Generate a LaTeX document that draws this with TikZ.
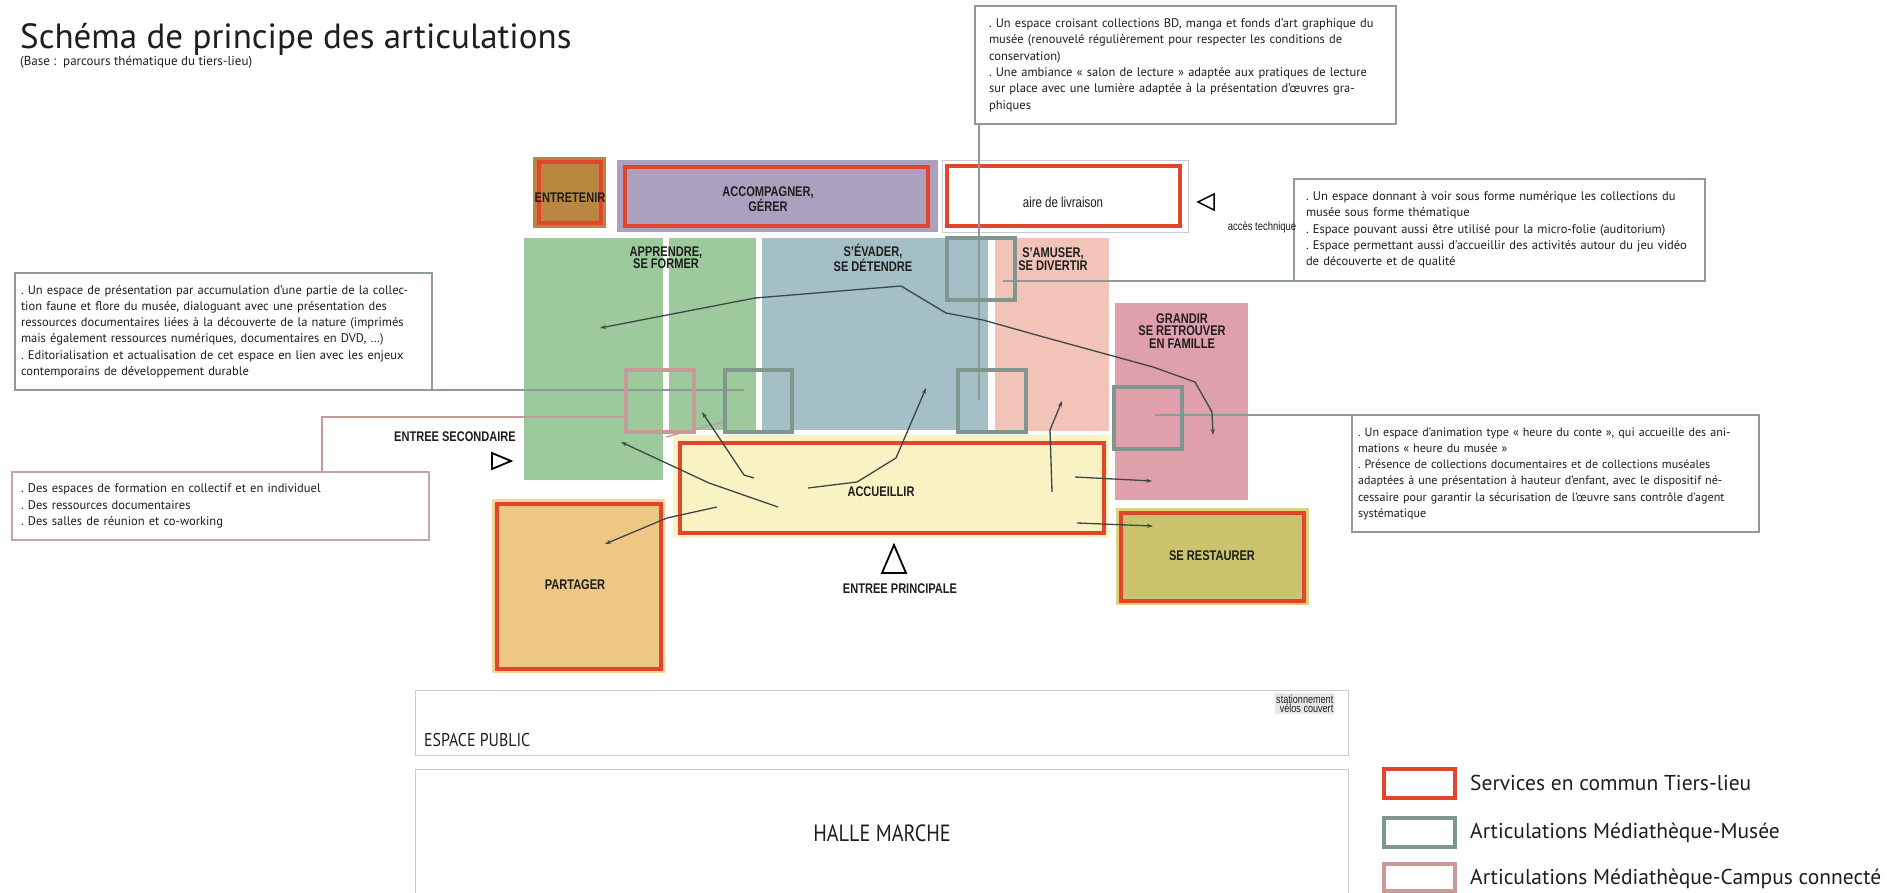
\documentclass[tikz,border=0pt]{standalone}
\usepackage{fontspec}
\setmainfont{PT Sans}
\newfontfamily\lblfont[FakeStretch=0.79]{Liberation Sans}
\newfontfamily\condfont[FakeStretch=0.86]{PT Sans}
\usetikzlibrary{arrows.meta}
\definecolor{cGreen}{HTML}{9DCA9C}
\definecolor{cBlue}{HTML}{A4BFC6}
\definecolor{cPinkAm}{HTML}{F2C4B9}
\definecolor{cGrandir}{HTML}{DF9FAB}
\definecolor{cYellow}{HTML}{F9F3C3}
\definecolor{cOrange}{HTML}{EFC784}
\definecolor{cOrangeL}{HTML}{F4D59C}
\definecolor{cOlive}{HTML}{CCC36E}
\definecolor{cOliveL}{HTML}{DDD27F}
\definecolor{cBrown}{HTML}{B9873F}
\definecolor{cPurple}{HTML}{ABA1BF}
\definecolor{cRed}{HTML}{E2452B}
\definecolor{cMus}{HTML}{7F978F}
\definecolor{cCamp}{HTML}{C89B99}
\definecolor{cBox}{HTML}{8E9B97}
\definecolor{cCampBox}{HTML}{C7A5A5}
\definecolor{cLiv}{HTML}{C9C9D6}
\definecolor{cArr}{HTML}{3B4847}
\definecolor{cTxt}{HTML}{1E1E1E}
\frenchspacing
\begin{document}
\begin{tikzpicture}[x=1pt,y=-1pt,
  zone/.style={anchor=north west, inner sep=0pt, outer sep=0pt},
  redf/.style={zone, draw=cRed, line width=3.6pt},
  musf/.style={zone, draw=cMus, line width=3.6pt},
  campf/.style={zone, draw=cCamp, line width=3.6pt},
  lbl/.style={font=\lblfont\bfseries\fontsize{14}{12.5}\selectfont, align=center, text=cTxt, inner sep=0pt},
  lbltwo/.style={font=\lblfont\fontsize{14.5}{14}\selectfont, text=cTxt, inner sep=0pt},
  cmt/.style={anchor=north west, draw=cBox, line width=1.3pt, fill=white, inner ysep=0pt, outer sep=0pt, align=left, text=cTxt, font=\fontsize{12.5}{16.3}\selectfont},
  mline/.style={draw=cBox, line width=1.4pt},
  cline/.style={draw=cCamp, line width=1.4pt},
  arr/.style={draw=cArr, line width=1.3pt, -{Stealth[length=6pt,width=4pt]}},
  birr/.style={draw=cArr, line width=1.3pt, {Stealth[length=6pt,width=4pt]}-{Stealth[length=6pt,width=4pt]}},
  tri/.style={draw=black, line width=1.8pt, line join=miter},
  lgt/.style={anchor=west, inner sep=0pt, text=cTxt, font=\fontsize{21.5}{23}\selectfont}
]
\useasboundingbox (0,0) rectangle (1904,893);

% ---- zones
\node[zone, fill=cBrown, minimum width=73pt, minimum height=71pt] (entO) at (533,157) {};
\node[redf, minimum width=62pt, minimum height=61pt] (entR) at (539,162) {};
\node[zone, fill=cPurple, minimum width=321pt, minimum height=72pt] (accO) at (617,160) {};
\node[redf, minimum width=303pt, minimum height=59pt] (accR) at (625,167) {};
\node[zone, draw=cLiv, line width=0.9pt, fill=white, minimum width=246pt, minimum height=72pt] (livO) at (942,160) {};
\node[redf, minimum width=233pt, minimum height=60pt] (livR) at (947,166) {};

\node[zone, fill=cGreen, minimum width=139pt, minimum height=242pt] (appA) at (524,238) {};
\node[zone, fill=cGreen, minimum width=87pt, minimum height=192pt] (appB) at (669,238) {};
\node[zone, fill=cBlue, minimum width=226pt, minimum height=192pt] (eva) at (762,238) {};
\node[zone, fill=cPinkAm, minimum width=114pt, minimum height=193pt] (amu) at (995,238) {};
\node[zone, fill=cGrandir, minimum width=133pt, minimum height=197pt] (gra) at (1115,303) {};
\node[zone, fill=cYellow, minimum width=436pt, minimum height=103pt] (accuO) at (673,435) {};
\node[redf, minimum width=424pt, minimum height=90pt] (accuR) at (680,443) {};
\node[zone, fill=cOrangeL, minimum width=173pt, minimum height=174pt] (parO) at (492,499) {};
\node[redf, fill=cOrange, minimum width=164pt, minimum height=165pt] (parR) at (497,504) {};
\node[zone, fill=cOliveL, minimum width=193pt, minimum height=97pt] (resO) at (1116,508) {};
\node[redf, fill=cOlive, minimum width=183pt, minimum height=88pt] (resR) at (1121,513) {};

% ---- comment boxes
\node[cmt, minimum height=118pt, text width=393pt, inner xsep=14pt] (cBD) at (975,6) {\begin{tabular}{@{}l@{}}
. Un espace croisant collections BD, manga et fonds d’art graphique du\\
musée (renouvelé régulièrement pour respecter les conditions de\\
conservation)\\
. Une ambiance « salon de lecture » adaptée aux pratiques de lecture\\
sur place avec une lumière adaptée à la présentation d’œuvres gra-\\
phiques\end{tabular}};
\node[cmt, minimum height=117pt, text width=405pt, inner xsep=6pt] (cFau) at (15,273) {\begin{tabular}{@{}l@{}}
. Un espace de présentation par accumulation d’une partie de la collec-\\
tion faune et flore du musée, dialoguant avec une présentation des\\
ressources documentaires liées à la découverte de la nature (imprimés\\
mais également ressources numériques, documentaires en DVD, …)\\
. Editorialisation et actualisation de cet espace en lien avec les enjeux\\
contemporains de développement durable\end{tabular}};
\node[cmt, minimum height=102pt, text width=387pt, inner xsep=12pt] (cNum) at (1294,179) {\begin{tabular}{@{}l@{}}
. Un espace donnant à voir sous forme numérique les collections du\\
musée sous forme thématique\\
. Espace pouvant aussi être utilisé pour la micro-folie (auditorium)\\
. Espace permettant aussi d’accueillir des activités autour du jeu vidéo\\
de découverte et de qualité\end{tabular}};
\node[cmt, font=\fontsize{12.1}{16.3}\selectfont, minimum height=117pt, text width=395pt, inner xsep=6pt] (cCon) at (1352,415) {\begin{tabular}{@{}l@{}}
. Un espace d’animation type « heure du conte », qui accueille des ani-\\
mations « heure du musée »\\
. Présence de collections documentaires et de collections muséales\\
adaptées à une présentation à hauteur d’enfant, avec le dispositif né-\\
cessaire pour garantir la sécurisation de l’œuvre sans contrôle d’agent\\
systématique\end{tabular}};
\node[cmt, draw=cCampBox, minimum height=68pt, text width=399pt, inner xsep=9pt] (cCam) at (12,472) {\begin{tabular}{@{}l@{}}
. Des espaces de formation en collectif et en individuel\\
. Des ressources documentaires\\
. Des salles de réunion et co-working\end{tabular}};

% ---- comment connectors
\coordinate (bdEnd) at (979,400);
\coordinate (fauEnd) at (744,390);
\coordinate (numEnd) at (1003,281);
\coordinate (conEnd) at (1155,415);
\coordinate (camBend) at (322,417);
\coordinate (camEnd) at (626,417);
\coordinate (pkA) at (666,437);
\coordinate (pkB) at (723,422);
\draw[mline] (cBD.south west -| bdEnd) -- (bdEnd);
\draw[mline] (cFau.south east) -- (fauEnd);
\draw[mline] (cNum.south west) -- (numEnd);
\draw[mline] (cCon.north west) -- (conEnd);
\draw[cline] (cCam.north -| camBend) -- (camBend) -- (camEnd);
\draw[cline] (pkA) -- (pkB);

% ---- articulation squares
\node[musf, minimum width=68pt, minimum height=62pt] (sqA) at (947,238) {};
\node[musf, minimum width=68pt, minimum height=62pt] (sqB) at (958,370) {};
\node[musf, minimum width=67pt, minimum height=62pt] (sqC) at (725,370) {};
\node[campf, minimum width=68pt, minimum height=62pt] (sqD) at (626,370) {};
\node[musf, minimum width=68pt, minimum height=62pt] (sqE) at (1114,387) {};

% ---- flow arrows
\coordinate (p1) at (600,328);
\coordinate (p2) at (755,298);
\coordinate (p3) at (901,286);
\coordinate (p4) at (946,313);
\coordinate (p5) at (983,320);
\coordinate (p6) at (1040,336);
\coordinate (p7) at (1153,367);
\coordinate (p8) at (1195,382);
\coordinate (p9) at (1212,412);
\coordinate (p10) at (1213,435);
\draw[birr] (p1) -- (p2) -- (p3) -- (p4) -- (p5) -- (p6) -- (p7) -- (p8) -- (p9) -- (p10);

\coordinate (q1) at (778,507); \coordinate (q2) at (709,483); \coordinate (q3) at (621,442);
\draw[arr] (q1) -- (q2) -- (q3);
\coordinate (r1) at (754,478); \coordinate (r2) at (744,475); \coordinate (r3) at (702,412);
\draw[arr] (r1) -- (r2) -- (r3);
\coordinate (s1) at (717,507); \coordinate (s2) at (667,518); \coordinate (s3) at (605,544);
\draw[arr] (s1) -- (s2) -- (s3);
\coordinate (t1) at (808,488); \coordinate (t2) at (857,482); \coordinate (t3) at (896,458); \coordinate (t4) at (926,388);
\draw[arr] (t1) -- (t2) -- (t3) -- (t4);
\coordinate (u1) at (1052,492); \coordinate (u2) at (1050,430); \coordinate (u3) at (1062,401);
\draw[arr] (u1) -- (u2) -- (u3);
\coordinate (v1) at (1075,477); \coordinate (v2) at (1152,481);
\draw[arr] (v1) -- (v2);
\coordinate (w1) at (1077,523); \coordinate (w2) at (1153,526);
\draw[arr] (w1) -- (w2);

% ---- labels
\node[lbl] (lEnt) at (570,198) {ENTRETENIR};
\node[lbl] (lAcc) at (768,199) {ACCOMPAGNER,\\GÉRER};
\node[lbltwo] (lLiv) at (1063,202) {aire de livraison};
\node[lbl] (lApp) at (666,258) {APPRENDRE,\\SE FORMER};
\node[lbl] (lEva) at (873,258) {S’ÉVADER,\\SE DÉTENDRE};
\node[lbl] (lAmu) at (1053,259) {S’AMUSER,\\SE DIVERTIR};
\node[lbl] (lGra) at (1182,331) {GRANDIR\\SE RETROUVER\\EN FAMILLE};
\node[lbl] (lAccu) at (881,492) {ACCUEILLIR};
\node[lbl] (lPar) at (575,585) {PARTAGER};
\node[lbl] (lRes) at (1212,556) {SE RESTAURER};
\node[lbl] (lES) at (455,437) {ENTREE SECONDAIRE};
\node[lbl] (lEP) at (900,589) {ENTREE PRINCIPALE};
\node[lbltwo, font=\lblfont\fontsize{12}{12}\selectfont] (lTech) at (1262,227) {accès technique};

% ---- entrance triangles
\draw[tri] (492,453) -- (492,469) -- (511,461) -- cycle;
\draw[tri] (882,573) -- (906,573) -- (894,545) -- cycle;
\draw[tri, line width=1.5pt] (1214,194) -- (1214,210) -- (1198,202) -- cycle;

% ---- title
\node[anchor=base west, inner sep=0pt, text=cTxt, font=\fontsize{35}{38}\selectfont] (title) at (20,49) {Schéma de principe des articulations};
\node[anchor=west, inner sep=0pt, text=cTxt, font=\fontsize{13}{14}\selectfont] (sub) at (20,62) {(Base :\ \ parcours thématique du tiers-lieu)};

% ---- public space / market
\node[zone, draw=gray!40, line width=1pt, minimum width=933pt, minimum height=65pt] (pub) at (415,690) {};
\node[anchor=west, inner sep=0pt, text=cTxt, font=\condfont\fontsize{18.5}{20}\selectfont] (lPub) at (424,740) {ESPACE PUBLIC};
\node[anchor=north east, inner sep=1.5pt, fill=gray!18, align=right, text=cTxt, font=\lblfont\fontsize{11.5}{9.5}\selectfont] (lVelo) at (1335,693) {stationnement\\vélos couvert};
\coordinate (halBL) at (415,893);
\coordinate (halTL) at (415,769);
\coordinate (halTR) at (1348,769);
\coordinate (halBR) at (1348,893);
\draw[gray!40, line width=1pt] (halBL) -- (halTL) -- (halTR) -- (halBR);
\node[inner sep=0pt, text=cTxt, font=\condfont\fontsize{23.5}{25}\selectfont] (lHal) at (882,833) {HALLE MARCHE};

% ---- legend
\node[redf, minimum width=71pt, minimum height=29pt] (lgR) at (1384,769) {};
\node[musf, minimum width=71pt, minimum height=29pt] (lgM) at (1384,818) {};
\node[campf, minimum width=71pt, minimum height=27pt] (lgC) at (1384,864) {};
\node[lgt] (lgRt) at (1470,783) {Services en commun Tiers-lieu};
\node[lgt] (lgMt) at (1470,833) {Articulations Médiathèque-Musée};
\node[lgt] (lgCt) at (1470,879) {Articulations Médiathèque-Campus connecté};
\end{tikzpicture}
\end{document}
